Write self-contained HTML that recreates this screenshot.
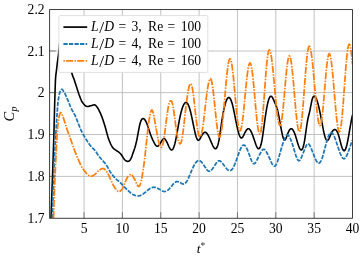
<!DOCTYPE html>
<html><head><meta charset="utf-8"><title>Cp plot</title>
<style>html,body{margin:0;padding:0;background:#fff;width:364px;height:257px;overflow:hidden;font-family:"Liberation Serif",serif}</style></head>
<body>
<svg width="364" height="257" viewBox="0 0 364 257" style="position:absolute;left:0;top:0;will-change:transform">
<defs><clipPath id="c"><rect x="49.65" y="9.6" width="302.85" height="208.65"/></clipPath></defs>
<rect width="364" height="257" fill="#fff"/>
<path d="M84.05,9.6 V218.25 M122.40,9.6 V218.25 M160.75,9.6 V218.25 M199.10,9.6 V218.25 M237.45,9.6 V218.25 M275.80,9.6 V218.25 M314.15,9.6 V218.25 M49.65,51.00 H352.5 M49.65,92.60 H352.5 M49.65,134.50 H352.5 M49.65,176.40 H352.5" stroke="#b4b4b4" stroke-width="0.8" fill="none"/>
<g clip-path="url(#c)" fill="none" stroke-linejoin="round">
<path d="M51.00,218.00 L51.10,215.20 L51.20,212.40 L51.30,209.60 L51.40,206.80 L51.50,204.00 L51.60,201.20 L51.70,198.40 L51.80,195.60 L51.90,192.80 L52.00,190.00 L52.10,187.22 L52.20,184.46 L52.30,181.72 L52.40,178.98 L52.50,176.23 L52.60,173.47 L52.70,170.67 L52.80,167.84 L52.90,164.95 L53.00,162.00 L53.10,159.00 L53.20,155.96 L53.30,152.88 L53.40,149.76 L53.50,146.60 L53.60,143.38 L53.70,140.12 L53.80,136.81 L53.90,133.43 L54.00,130.00 L54.10,126.41 L54.20,122.61 L54.30,118.68 L54.40,114.71 L54.50,110.78 L54.60,106.96 L54.70,103.34 L54.80,100.00 L54.90,96.77 L55.00,93.50 L55.10,90.27 L55.20,87.18 L55.30,84.32 L55.40,81.77 L55.50,79.64 L55.60,78.00 L55.70,76.74 L55.80,75.65 L55.90,74.70 L56.00,73.85 L56.10,73.07 L56.20,72.33 L56.30,71.60 L56.40,70.83 L56.50,70.00 L56.60,69.13 L56.70,68.25 L56.80,67.37 L56.90,66.51 L57.00,65.65 L57.10,64.81 L57.20,64.00 L57.30,63.21 L57.40,62.45 L57.50,61.70 L57.60,60.96 L57.70,60.23 L57.80,59.50 L57.90,58.75 L58.00,58.00 L58.10,57.24 L58.20,56.49 L58.30,55.74 L58.40,54.99 L58.50,54.23 L58.60,53.46 L58.70,52.67 L58.80,51.85 L58.90,51.00 L59.00,50.11 L59.10,49.17 L59.20,48.20 L59.30,47.19 L59.40,46.15 L59.50,45.10 L59.60,44.03 L59.70,42.96 L59.80,41.89 L59.90,40.83 L60.00,39.78 L60.10,38.75 L60.20,37.75 L60.30,36.79 L60.40,35.87 L60.50,35.00 L60.60,34.14 L60.70,33.27 L60.80,32.38 L60.90,31.50 L61.00,30.62 L61.10,29.76 L61.20,28.91 L61.30,28.10 L61.40,27.33 L61.50,26.61 L61.60,25.94 L61.70,25.34 L61.80,24.81 L61.90,24.36 L62.00,24.00 L62.10,23.69 L62.20,23.38 L62.30,23.08 L62.40,22.80 L62.50,22.52 L62.60,22.27 L62.70,22.02 L62.80,21.80 L62.90,21.60 L63.00,21.43 L63.10,21.28 L63.20,21.16 L63.30,21.07 L63.40,21.02 L63.50,21.00 L63.60,21.02 L63.70,21.09 L63.80,21.20 L63.90,21.36 L64.00,21.55 L64.10,21.77 L64.20,22.03 L64.30,22.31 L64.40,22.62 L64.50,22.96 L64.60,23.31 L64.70,23.69 L64.80,24.08 L64.90,24.48 L65.00,24.89 L65.10,25.31 L65.20,25.73 L65.30,26.16 L65.40,26.58 L65.50,27.00 L65.60,27.44 L65.70,27.92 L65.80,28.45 L65.90,29.02 L66.00,29.62 L66.50,33.06 L67.00,37.01 L67.50,41.10 L68.00,45.00 L68.50,48.94 L69.00,53.21 L69.50,57.61 L70.00,61.91 L70.50,65.88 L71.00,69.31 L71.50,71.98 L72.00,73.87 L72.50,75.39 L73.00,76.68 L73.50,77.89 L74.00,79.16 L74.50,80.60 L75.00,82.13 L75.50,83.69 L76.00,85.26 L76.50,86.81 L77.00,88.38 L77.50,89.96 L78.00,91.53 L78.50,93.05 L79.00,94.47 L79.50,95.79 L80.00,97.12 L80.50,98.43 L81.00,99.67 L81.50,100.79 L82.00,101.75 L82.50,102.50 L83.00,103.12 L83.50,103.74 L84.00,104.32 L84.50,104.86 L85.00,105.35 L85.50,105.76 L86.00,106.10 L86.50,106.34 L87.00,106.48 L87.50,106.50 L88.00,106.45 L88.50,106.36 L89.00,106.25 L89.50,106.11 L90.00,105.97 L90.50,105.83 L91.00,105.70 L91.50,105.56 L92.00,105.40 L92.50,105.23 L93.00,105.07 L93.50,104.93 L94.00,104.84 L94.50,104.80 L95.00,104.94 L95.50,105.29 L96.00,105.81 L96.50,106.40 L97.00,107.00 L97.50,107.66 L98.00,108.45 L98.50,109.35 L99.00,110.31 L99.50,111.30 L100.00,112.34 L100.50,113.45 L101.00,114.63 L101.50,115.87 L102.00,117.16 L102.50,118.50 L103.00,119.92 L103.50,121.45 L104.00,123.04 L104.50,124.67 L105.00,126.30 L105.50,128.00 L106.00,129.80 L106.50,131.67 L107.00,133.53 L107.50,135.35 L108.00,137.07 L108.50,138.64 L109.00,140.00 L109.50,141.23 L110.00,142.42 L110.50,143.55 L111.00,144.61 L111.50,145.59 L112.00,146.47 L112.50,147.24 L113.00,147.89 L113.50,148.41 L114.00,148.86 L114.50,149.25 L115.00,149.61 L115.50,149.95 L116.00,150.30 L116.50,150.64 L117.00,150.95 L117.50,151.25 L118.00,151.57 L118.50,151.92 L119.00,152.32 L119.50,152.76 L120.00,153.23 L120.50,153.74 L121.00,154.30 L121.50,154.96 L122.00,155.74 L122.50,156.57 L123.00,157.41 L123.50,158.17 L124.00,158.82 L124.50,159.42 L125.00,159.99 L125.50,160.47 L126.00,160.80 L126.50,161.03 L127.00,161.23 L127.50,161.36 L128.00,161.40 L128.50,161.30 L129.00,161.08 L129.50,160.80 L130.00,160.29 L130.50,159.45 L131.00,158.43 L131.50,157.35 L132.00,156.00 L132.50,154.49 L133.00,153.00 L133.50,151.63 L134.00,150.28 L134.50,148.85 L135.00,147.23 L135.50,145.42 L136.00,143.46 L136.50,141.34 L137.00,139.05 L137.50,136.40 L138.00,133.62 L138.50,131.00 L139.00,128.41 L139.50,125.80 L140.00,123.62 L140.50,122.18 L141.00,120.80 L141.50,119.78 L142.00,119.09 L142.50,118.69 L143.00,118.55 L143.50,118.63 L144.00,118.91 L144.50,119.36 L145.00,119.97 L145.50,120.75 L146.00,121.68 L146.50,122.77 L147.00,124.00 L147.50,125.37 L148.00,126.84 L148.50,128.38 L149.00,129.94 L149.50,131.49 L150.00,133.00 L150.50,134.43 L151.00,135.77 L151.50,137.04 L152.00,138.25 L152.50,139.39 L153.00,140.47 L153.50,141.50 L154.00,142.48 L154.50,143.40 L155.00,144.22 L155.50,144.94 L156.00,145.52 L156.50,145.95 L157.00,146.20 L157.50,146.25 L158.00,146.09 L158.50,145.74 L159.00,145.22 L159.50,144.58 L160.00,143.83 L160.50,143.00 L161.00,142.13 L161.50,141.27 L162.00,140.46 L162.50,139.75 L163.00,139.19 L163.50,138.84 L164.00,138.73 L164.50,138.88 L165.00,139.26 L165.50,139.83 L166.00,140.58 L166.50,141.45 L167.00,142.44 L167.50,143.50 L168.00,144.60 L168.50,145.71 L169.00,146.77 L169.50,147.75 L170.00,148.61 L170.50,149.30 L171.00,149.77 L171.50,150.00 L172.00,149.92 L172.50,149.54 L173.00,148.85 L173.50,147.85 L174.00,146.57 L174.50,144.99 L175.00,143.13 L175.50,141.00 L176.00,138.61 L176.50,136.01 L177.00,133.26 L177.50,130.42 L178.00,127.56 L178.50,124.73 L179.00,122.00 L179.50,119.41 L180.00,116.99 L180.50,114.73 L181.00,112.65 L181.50,110.74 L182.00,109.03 L182.50,107.50 L183.00,106.17 L183.50,105.05 L184.00,104.12 L184.50,103.40 L185.00,102.89 L185.50,102.59 L186.00,102.50 L186.50,102.62 L187.00,102.96 L187.50,103.52 L188.00,104.30 L188.50,105.31 L189.00,106.54 L189.50,108.00 L190.00,109.69 L190.50,111.57 L191.00,113.63 L191.50,115.84 L192.00,118.15 L192.50,120.55 L193.00,123.00 L193.50,125.47 L194.00,127.91 L194.50,130.27 L195.00,132.48 L195.50,134.50 L196.00,136.28 L196.50,137.77 L197.00,138.95 L197.50,139.79 L198.00,140.25 L198.50,140.32 L199.00,140.05 L199.50,139.51 L200.00,138.76 L200.50,137.88 L201.00,136.94 L201.50,136.00 L202.00,135.12 L202.50,134.33 L203.00,133.64 L203.50,133.07 L204.00,132.64 L204.50,132.36 L205.00,132.24 L205.50,132.31 L206.00,132.55 L206.50,132.97 L207.00,133.53 L207.50,134.24 L208.00,135.06 L208.50,135.98 L209.00,137.00 L209.50,138.09 L210.00,139.23 L210.50,140.40 L211.00,141.59 L211.50,142.76 L212.00,143.91 L212.50,145.00 L213.00,146.02 L213.50,146.93 L214.00,147.69 L214.50,148.28 L215.00,148.64 L215.50,148.75 L216.00,148.57 L216.50,148.07 L217.00,147.24 L217.50,146.03 L218.00,144.44 L218.50,142.44 L219.00,140.00 L219.50,137.12 L220.00,133.90 L220.50,130.46 L221.00,126.92 L221.50,123.39 L222.00,120.00 L222.50,116.84 L223.00,113.94 L223.50,111.28 L224.00,108.86 L224.50,106.68 L225.00,104.73 L225.50,103.00 L226.00,101.50 L226.50,100.22 L227.00,99.18 L227.50,98.38 L228.00,97.83 L228.50,97.54 L229.00,97.52 L229.50,97.77 L230.00,98.28 L230.50,99.07 L231.00,100.11 L231.50,101.43 L232.00,103.00 L232.50,104.83 L233.00,106.88 L233.50,109.11 L234.00,111.48 L234.50,113.94 L235.00,116.46 L235.50,119.00 L236.00,121.51 L236.50,123.96 L237.00,126.32 L237.50,128.56 L238.00,130.63 L238.50,132.50 L239.00,134.15 L239.50,135.54 L240.00,136.64 L240.50,137.44 L241.00,137.90 L241.50,138.00 L242.00,137.76 L242.50,137.23 L243.00,136.48 L243.50,135.57 L244.00,134.56 L244.50,133.52 L245.00,132.50 L245.50,131.56 L246.00,130.73 L246.50,130.02 L247.00,129.44 L247.50,129.02 L248.00,128.77 L248.50,128.71 L249.00,128.84 L249.50,129.19 L250.00,129.72 L250.50,130.43 L251.00,131.30 L251.50,132.33 L252.00,133.50 L252.50,134.79 L253.00,136.18 L253.50,137.63 L254.00,139.12 L254.50,140.61 L255.00,142.08 L255.50,143.50 L256.00,144.83 L256.50,146.03 L257.00,147.07 L257.50,147.89 L258.00,148.46 L258.50,148.74 L259.00,148.68 L259.50,148.25 L260.00,147.44 L260.50,146.23 L261.00,144.59 L261.50,142.52 L262.00,140.00 L262.50,137.03 L263.00,133.69 L263.50,130.11 L264.00,126.39 L264.50,122.65 L265.00,119.00 L265.50,115.54 L266.00,112.30 L266.50,109.30 L267.00,106.57 L267.50,104.13 L268.00,102.00 L268.50,100.20 L269.00,98.72 L269.50,97.59 L270.00,96.78 L270.50,96.32 L271.00,96.19 L271.50,96.40 L272.00,96.91 L272.50,97.68 L273.00,98.63 L273.50,99.71 L274.00,100.85 L274.50,102.00 L275.00,103.11 L275.50,104.22 L276.00,105.40 L276.50,106.72 L277.00,108.23 L277.50,110.00 L278.00,112.08 L278.50,114.42 L279.00,116.97 L279.50,119.66 L280.00,122.43 L280.50,125.24 L281.00,128.00 L281.50,130.67 L282.00,133.15 L282.50,135.38 L283.00,137.28 L283.50,138.75 L284.00,139.73 L284.50,140.12 L285.00,139.96 L285.50,139.33 L286.00,138.35 L286.50,137.12 L287.00,135.75 L287.50,134.34 L288.00,133.00 L288.50,131.82 L289.00,130.83 L289.50,130.02 L290.00,129.40 L290.50,128.99 L291.00,128.78 L291.50,128.78 L292.00,128.99 L292.50,129.40 L293.00,130.01 L293.50,130.82 L294.00,131.82 L294.50,133.00 L295.00,134.35 L295.50,135.84 L296.00,137.43 L296.50,139.08 L297.00,140.75 L297.50,142.41 L298.00,144.00 L298.50,145.49 L299.00,146.85 L299.50,148.02 L300.00,148.95 L300.50,149.62 L301.00,149.96 L301.50,149.94 L302.00,149.53 L302.50,148.72 L303.00,147.47 L303.50,145.78 L304.00,143.63 L304.50,141.00 L305.00,137.91 L305.50,134.49 L306.00,130.92 L306.50,127.37 L307.00,124.00 L307.50,121.00 L308.00,118.47 L308.50,116.28 L309.00,114.26 L309.50,112.23 L310.00,110.00 L310.50,107.46 L311.00,104.79 L311.50,102.22 L312.00,100.00 L312.50,98.32 L313.00,97.17 L313.50,96.48 L314.00,96.20 L314.50,96.25 L315.00,96.59 L315.50,97.19 L316.00,98.04 L316.50,99.13 L317.00,100.46 L317.50,102.00 L318.00,103.75 L318.50,105.68 L319.00,107.77 L319.50,110.00 L320.00,112.35 L320.50,114.80 L321.00,117.35 L321.50,120.00 L322.00,122.72 L322.50,125.46 L323.00,128.14 L323.50,130.68 L324.00,133.00 L324.50,135.05 L325.00,136.79 L325.50,138.22 L326.00,139.32 L326.50,140.07 L327.00,140.47 L327.50,140.50 L328.00,140.16 L328.50,139.50 L329.00,138.60 L329.50,137.53 L330.00,136.36 L330.50,135.16 L331.00,134.00 L331.50,132.95 L332.00,132.02 L332.50,131.22 L333.00,130.56 L333.50,130.05 L334.00,129.70 L334.50,129.51 L335.00,129.50 L335.50,129.67 L336.00,130.03 L336.50,130.59 L337.00,131.36 L337.50,132.35 L338.00,133.56 L338.50,135.00 L339.00,136.67 L339.50,138.51 L340.00,140.44 L340.50,142.38 L341.00,144.26 L341.50,146.00 L342.00,147.54 L342.50,148.82 L343.00,149.81 L343.50,150.47 L344.00,150.76 L344.50,150.64 L345.00,150.09 L345.50,149.16 L346.00,147.86 L346.50,146.21 L347.00,144.25 L347.50,142.00 L348.00,139.49 L348.50,136.77 L349.00,133.91 L349.50,130.96 L350.00,128.00 L350.50,125.08 L351.00,122.25 L351.50,119.59 L352.00,117.15 L352.50,115.00" stroke="#000" stroke-width="1.6"/>
<path d="M52.30,218.00 L52.40,215.20 L52.50,212.40 L52.60,209.60 L52.70,206.80 L52.80,204.00 L52.90,201.20 L53.00,198.40 L53.10,195.60 L53.20,192.80 L53.30,190.00 L53.40,187.15 L53.50,184.22 L53.60,181.25 L53.70,178.27 L53.80,175.31 L53.90,172.41 L54.00,169.59 L54.10,166.90 L54.20,164.35 L54.30,162.00 L54.40,159.78 L54.50,157.63 L54.60,155.55 L54.70,153.52 L54.80,151.55 L54.90,149.63 L55.00,147.76 L55.10,145.93 L55.20,144.15 L55.30,142.41 L55.40,140.70 L55.50,139.02 L55.60,137.37 L55.70,135.75 L55.80,134.15 L55.90,132.57 L56.00,131.00 L56.10,129.43 L56.20,127.84 L56.30,126.24 L56.40,124.64 L56.50,123.04 L56.60,121.44 L56.70,119.85 L56.80,118.28 L56.90,116.73 L57.00,115.20 L57.10,113.70 L57.20,112.24 L57.30,110.82 L57.40,109.45 L57.50,108.13 L57.60,106.86 L57.70,105.65 L57.80,104.52 L57.90,103.45 L58.00,102.46 L58.10,101.55 L58.20,100.73 L58.30,100.00 L58.40,99.33 L58.50,98.68 L58.60,98.05 L58.70,97.45 L58.80,96.87 L58.90,96.32 L59.00,95.79 L59.10,95.28 L59.20,94.80 L59.30,94.35 L59.40,93.93 L59.50,93.53 L59.60,93.16 L59.70,92.83 L59.80,92.52 L59.90,92.24 L60.00,92.00 L60.10,91.77 L60.20,91.55 L60.30,91.32 L60.40,91.11 L60.50,90.89 L60.60,90.69 L60.70,90.49 L60.80,90.31 L60.90,90.14 L61.00,89.97 L61.10,89.83 L61.20,89.70 L61.30,89.58 L61.40,89.48 L61.50,89.40 L61.60,89.35 L61.70,89.31 L61.80,89.30 L61.90,89.31 L62.00,89.34 L62.10,89.38 L62.20,89.45 L62.30,89.52 L62.40,89.61 L62.50,89.72 L62.60,89.83 L62.70,89.96 L62.80,90.09 L62.90,90.23 L63.00,90.38 L63.10,90.54 L63.20,90.70 L63.30,90.86 L63.40,91.03 L63.50,91.19 L63.60,91.36 L63.70,91.52 L63.80,91.69 L63.90,91.85 L64.00,92.00 L64.10,92.15 L64.20,92.31 L64.30,92.48 L64.40,92.65 L64.50,92.82 L64.60,93.00 L64.70,93.18 L64.80,93.37 L64.90,93.56 L65.00,93.75 L65.10,93.95 L65.20,94.15 L65.30,94.36 L65.40,94.56 L65.50,94.77 L65.60,94.99 L65.70,95.20 L65.80,95.42 L65.90,95.64 L66.00,95.86 L66.00,95.86 L66.50,97.00 L67.00,98.15 L67.50,99.31 L68.00,100.46 L68.50,101.68 L69.00,102.96 L69.50,104.26 L70.00,105.54 L70.50,106.79 L71.00,107.96 L71.50,109.02 L72.00,109.98 L72.50,110.89 L73.00,111.75 L73.50,112.61 L74.00,113.49 L74.50,114.41 L75.00,115.40 L75.50,116.47 L76.00,117.62 L76.50,118.82 L77.00,120.07 L77.50,121.34 L78.00,122.64 L78.50,123.95 L79.00,125.24 L79.50,126.52 L80.00,127.77 L80.50,128.98 L81.00,130.13 L81.50,131.21 L82.00,132.24 L82.50,133.22 L83.00,134.15 L83.50,135.02 L84.00,135.89 L84.50,136.75 L85.00,137.59 L85.50,138.43 L86.00,139.25 L86.50,140.05 L87.00,140.84 L87.50,141.62 L88.00,142.37 L88.50,143.11 L89.00,143.82 L89.50,144.51 L90.00,145.18 L90.50,145.82 L91.00,146.44 L91.50,147.03 L92.00,147.56 L92.50,148.05 L93.00,148.51 L93.50,148.96 L94.00,149.43 L94.50,149.94 L95.00,150.50 L95.50,151.14 L96.00,151.84 L96.50,152.60 L97.00,153.38 L97.50,154.17 L98.00,154.93 L98.50,155.66 L99.00,156.33 L99.50,156.96 L100.00,157.57 L100.50,158.16 L101.00,158.73 L101.50,159.29 L102.00,159.84 L102.50,160.39 L103.00,160.94 L103.50,161.50 L104.00,162.07 L104.50,162.66 L105.00,163.27 L105.50,163.91 L106.00,164.58 L106.50,165.29 L107.00,166.08 L107.50,166.92 L108.00,167.81 L108.50,168.73 L109.00,169.65 L109.50,170.56 L110.00,171.43 L110.50,172.25 L111.00,173.00 L111.50,173.70 L112.00,174.37 L112.50,175.03 L113.00,175.67 L113.50,176.28 L114.00,176.87 L114.50,177.44 L115.00,177.99 L115.50,178.51 L116.00,179.00 L116.50,179.46 L117.00,179.87 L117.50,180.26 L118.00,180.63 L118.50,181.01 L119.00,181.39 L119.50,181.80 L120.00,182.25 L120.50,182.75 L121.00,183.31 L121.50,183.88 L122.00,184.45 L122.50,185.00 L123.00,185.53 L123.50,186.05 L124.00,186.58 L124.50,187.10 L125.00,187.61 L125.50,188.12 L126.00,188.62 L126.50,189.11 L127.00,189.58 L127.50,190.05 L128.00,190.50 L128.50,190.95 L129.00,191.41 L129.50,191.88 L130.00,192.34 L130.50,192.78 L131.00,193.20 L131.50,193.59 L132.00,193.95 L132.50,194.25 L133.00,194.50 L133.50,194.72 L134.00,194.94 L134.50,195.14 L135.00,195.34 L135.50,195.52 L136.00,195.68 L136.50,195.81 L137.00,195.91 L137.50,195.98 L138.00,196.00 L138.50,195.95 L139.00,195.87 L139.50,195.75 L140.00,195.59 L140.50,195.40 L141.00,195.18 L141.50,194.92 L142.00,194.64 L142.50,194.33 L143.00,194.00 L143.50,193.64 L144.00,193.27 L144.50,192.87 L145.00,192.47 L145.50,192.05 L146.00,191.64 L146.50,191.22 L147.00,190.80 L147.50,190.40 L148.00,190.00 L148.50,189.62 L149.00,189.26 L149.50,188.91 L150.00,188.59 L150.50,188.30 L151.00,188.04 L151.50,187.81 L152.00,187.61 L152.50,187.46 L153.00,187.34 L153.50,187.27 L154.00,187.24 L154.50,187.26 L155.00,187.33 L155.50,187.43 L156.00,187.57 L156.50,187.74 L157.00,187.95 L157.50,188.18 L158.00,188.43 L158.50,188.71 L159.00,189.00 L159.50,189.30 L160.00,189.62 L160.50,189.93 L161.00,190.23 L161.50,190.52 L162.00,190.78 L162.50,191.02 L163.00,191.22 L163.50,191.37 L164.00,191.48 L164.50,191.52 L165.00,191.50 L165.50,191.41 L166.00,191.25 L166.50,191.02 L167.00,190.74 L167.50,190.39 L168.00,190.00 L168.50,189.56 L169.00,189.08 L169.50,188.56 L170.00,188.00 L170.50,187.41 L171.00,186.81 L171.50,186.19 L172.00,185.58 L172.50,184.97 L173.00,184.39 L173.50,183.83 L174.00,183.32 L174.50,182.85 L175.00,182.44 L175.50,182.10 L176.00,181.85 L176.50,181.68 L177.00,181.60 L177.50,181.60 L178.00,181.67 L178.50,181.81 L179.00,182.00 L179.50,182.23 L180.00,182.50 L180.50,182.80 L181.00,183.10 L181.50,183.39 L182.00,183.64 L182.50,183.85 L183.00,183.98 L183.50,184.02 L184.00,183.95 L184.50,183.76 L185.00,183.44 L185.50,183.01 L186.00,182.46 L186.50,181.79 L187.00,181.00 L187.50,180.10 L188.00,179.10 L188.50,178.02 L189.00,176.88 L189.50,175.70 L190.00,174.50 L190.50,173.29 L191.00,172.09 L191.50,170.90 L192.00,169.74 L192.50,168.61 L193.00,167.52 L193.50,166.48 L194.00,165.50 L194.50,164.59 L195.00,163.75 L195.50,163.00 L196.00,162.33 L196.50,161.75 L197.00,161.28 L197.50,160.91 L198.00,160.66 L198.50,160.52 L199.00,160.51 L199.50,160.62 L200.00,160.85 L200.50,161.17 L201.00,161.59 L201.50,162.10 L202.00,162.67 L202.50,163.31 L203.00,164.00 L203.50,164.73 L204.00,165.49 L204.50,166.26 L205.00,167.03 L205.50,167.78 L206.00,168.50 L206.50,169.17 L207.00,169.78 L207.50,170.31 L208.00,170.74 L208.50,171.05 L209.00,171.22 L209.50,171.24 L210.00,171.10 L210.50,170.83 L211.00,170.44 L211.50,169.94 L212.00,169.36 L212.50,168.70 L213.00,168.00 L213.50,167.26 L214.00,166.50 L214.50,165.73 L215.00,164.97 L215.50,164.22 L216.00,163.50 L216.50,162.82 L217.00,162.21 L217.50,161.68 L218.00,161.25 L218.50,160.94 L219.00,160.77 L219.50,160.77 L220.00,160.92 L220.50,161.22 L221.00,161.63 L221.50,162.13 L222.00,162.71 L222.50,163.34 L223.00,164.00 L223.50,164.67 L224.00,165.34 L224.50,166.00 L225.00,166.66 L225.50,167.29 L226.00,167.91 L226.50,168.50 L227.00,169.05 L227.50,169.56 L228.00,170.00 L228.50,170.35 L229.00,170.61 L229.50,170.74 L230.00,170.75 L230.50,170.61 L231.00,170.33 L231.50,169.91 L232.00,169.36 L232.50,168.68 L233.00,167.90 L233.50,167.00 L234.00,166.00 L234.50,164.91 L235.00,163.73 L235.50,162.48 L236.00,161.17 L236.50,159.81 L237.00,158.42 L237.50,157.00 L238.00,155.57 L238.50,154.15 L239.00,152.77 L239.50,151.43 L240.00,150.17 L240.50,149.00 L241.00,147.95 L241.50,147.03 L242.00,146.26 L242.50,145.65 L243.00,145.24 L243.50,145.03 L244.00,145.03 L244.50,145.26 L245.00,145.68 L245.50,146.29 L246.00,147.06 L246.50,147.97 L247.00,149.00 L247.50,150.14 L248.00,151.36 L248.50,152.64 L249.00,153.97 L249.50,155.32 L250.00,156.67 L250.50,158.00 L251.00,159.29 L251.50,160.50 L252.00,161.58 L252.50,162.49 L253.00,163.19 L253.50,163.64 L254.00,163.78 L254.50,163.64 L255.00,163.24 L255.50,162.63 L256.00,161.85 L256.50,160.96 L257.00,160.00 L257.50,159.00 L258.00,157.99 L258.50,156.97 L259.00,155.95 L259.50,154.94 L260.00,153.95 L260.50,153.00 L261.00,152.09 L261.50,151.26 L262.00,150.53 L262.50,149.94 L263.00,149.51 L263.50,149.28 L264.00,149.28 L264.50,149.50 L265.00,149.92 L265.50,150.51 L266.00,151.24 L266.50,152.08 L267.00,153.00 L267.50,153.98 L268.00,154.99 L268.50,156.05 L269.00,157.12 L269.50,158.22 L270.00,159.32 L270.50,160.41 L271.00,161.50 L271.50,162.56 L272.00,163.56 L272.50,164.47 L273.00,165.22 L273.50,165.80 L274.00,166.16 L274.50,166.25 L275.00,166.05 L275.50,165.57 L276.00,164.85 L276.50,163.90 L277.00,162.76 L277.50,161.45 L278.00,160.00 L278.50,158.44 L279.00,156.79 L279.50,155.07 L280.00,153.31 L280.50,151.53 L281.00,149.75 L281.50,148.00 L282.00,146.30 L282.50,144.66 L283.00,143.10 L283.50,141.63 L284.00,140.26 L284.50,139.00 L285.00,137.87 L285.50,136.90 L286.00,136.10 L286.50,135.50 L287.00,135.13 L287.50,135.00 L288.00,135.14 L288.50,135.52 L289.00,136.12 L289.50,136.92 L290.00,137.89 L290.50,139.00 L291.00,140.24 L291.50,141.58 L292.00,143.01 L292.50,144.51 L293.00,146.08 L293.50,147.69 L294.00,149.34 L294.50,151.00 L295.00,152.66 L295.50,154.27 L296.00,155.80 L296.50,157.20 L297.00,158.43 L297.50,159.45 L298.00,160.20 L298.50,160.65 L299.00,160.76 L299.50,160.53 L300.00,160.00 L300.50,159.23 L301.00,158.28 L301.50,157.18 L302.00,156.00 L302.50,154.77 L303.00,153.52 L303.50,152.25 L304.00,150.99 L304.50,149.73 L305.00,148.50 L305.50,147.31 L306.00,146.21 L306.50,145.25 L307.00,144.49 L307.50,143.97 L308.00,143.75 L308.50,143.86 L309.00,144.28 L309.50,144.95 L310.00,145.83 L310.50,146.86 L311.00,148.00 L311.50,149.20 L312.00,150.45 L312.50,151.72 L313.00,153.01 L313.50,154.30 L314.00,155.57 L314.50,156.81 L315.00,158.00 L315.50,159.13 L316.00,160.17 L316.50,161.11 L317.00,161.90 L317.50,162.54 L318.00,162.99 L318.50,163.22 L319.00,163.22 L319.50,162.97 L320.00,162.49 L320.50,161.79 L321.00,160.88 L321.50,159.77 L322.00,158.47 L322.50,157.00 L323.00,155.37 L323.50,153.60 L324.00,151.74 L324.50,149.81 L325.00,147.86 L325.50,145.91 L326.00,144.00 L326.50,142.16 L327.00,140.42 L327.50,138.79 L328.00,137.31 L328.50,136.00 L329.00,134.87 L329.50,133.95 L330.00,133.24 L330.50,132.76 L331.00,132.52 L331.50,132.54 L332.00,132.80 L332.50,133.29 L333.00,133.97 L333.50,134.84 L334.00,135.85 L334.50,137.00 L335.00,138.25 L335.50,139.59 L336.00,141.00 L336.50,142.46 L337.00,143.97 L337.50,145.49 L338.00,147.01 L338.50,148.52 L339.00,150.00 L339.50,151.43 L340.00,152.79 L340.50,154.06 L341.00,155.23 L341.50,156.26 L342.00,157.14 L342.50,157.85 L343.00,158.37 L343.50,158.68 L344.00,158.76 L344.50,158.60 L345.00,158.23 L345.50,157.67 L346.00,156.93 L346.50,156.03 L347.00,155.00 L347.50,153.85 L348.00,152.60 L348.50,151.28 L349.00,149.89 L349.50,148.46 L350.00,147.00 L350.50,145.54 L351.00,144.09 L351.50,142.67 L352.00,141.30 L352.50,140.00" stroke="#1f77b4" stroke-width="1.75" stroke-dasharray="4.3 1.3"/>
<path d="M53.50,218.00 L53.60,215.01 L53.70,212.05 L53.80,209.13 L53.90,206.26 L54.00,203.43 L54.10,200.64 L54.20,197.90 L54.30,195.22 L54.40,192.58 L54.50,190.00 L54.60,187.46 L54.70,184.95 L54.80,182.48 L54.90,180.04 L55.00,177.63 L55.10,175.26 L55.20,172.94 L55.30,170.66 L55.40,168.42 L55.50,166.23 L55.60,164.09 L55.70,162.00 L55.80,159.93 L55.90,157.85 L56.00,155.76 L56.10,153.68 L56.20,151.62 L56.30,149.58 L56.40,147.56 L56.50,145.59 L56.60,143.67 L56.70,141.80 L56.80,139.99 L56.90,138.26 L57.00,136.61 L57.10,135.05 L57.20,133.59 L57.30,132.24 L57.40,131.00 L57.50,129.83 L57.60,128.68 L57.70,127.56 L57.80,126.46 L57.90,125.40 L58.00,124.37 L58.10,123.39 L58.20,122.45 L58.30,121.55 L58.40,120.71 L58.50,119.93 L58.60,119.21 L58.70,118.55 L58.80,117.96 L58.90,117.44 L59.00,117.00 L59.10,116.60 L59.20,116.21 L59.30,115.82 L59.40,115.44 L59.50,115.08 L59.60,114.73 L59.70,114.40 L59.80,114.09 L59.90,113.81 L60.00,113.54 L60.10,113.31 L60.20,113.10 L60.30,112.93 L60.40,112.79 L60.50,112.68 L60.60,112.62 L60.70,112.60 L60.80,112.62 L60.90,112.66 L61.00,112.73 L61.10,112.82 L61.20,112.94 L61.30,113.08 L61.40,113.23 L61.50,113.40 L61.60,113.59 L61.70,113.78 L61.80,113.99 L61.90,114.20 L62.00,114.42 L62.10,114.63 L62.20,114.86 L62.30,115.07 L62.40,115.29 L62.50,115.50 L62.60,115.71 L62.70,115.94 L62.80,116.18 L62.90,116.43 L63.00,116.70 L63.10,116.97 L63.20,117.25 L63.30,117.55 L63.40,117.85 L63.50,118.15 L63.60,118.47 L63.70,118.78 L63.80,119.11 L63.90,119.43 L64.00,119.76 L64.10,120.09 L64.20,120.42 L64.30,120.75 L64.40,121.08 L64.50,121.41 L64.60,121.74 L64.70,122.06 L64.80,122.38 L64.90,122.69 L65.00,123.00 L65.10,123.30 L65.20,123.61 L65.30,123.92 L65.40,124.23 L65.50,124.54 L65.60,124.85 L65.70,125.17 L65.80,125.48 L65.90,125.79 L66.00,126.11 L66.50,127.68 L67.00,129.22 L67.50,130.71 L68.00,132.13 L68.50,133.48 L69.00,134.81 L69.50,136.14 L70.00,137.50 L70.50,138.91 L71.00,140.37 L71.50,141.84 L72.00,143.32 L72.50,144.79 L73.00,146.24 L73.50,147.64 L74.00,149.00 L74.50,150.31 L75.00,151.60 L75.50,152.86 L76.00,154.10 L76.50,155.31 L77.00,156.51 L77.50,157.69 L78.00,158.85 L78.50,160.00 L79.00,161.15 L79.50,162.32 L80.00,163.47 L80.50,164.58 L81.00,165.64 L81.50,166.62 L82.00,167.50 L82.50,168.28 L83.00,169.00 L83.50,169.66 L84.00,170.29 L84.50,170.90 L85.00,171.50 L85.50,172.12 L86.00,172.76 L86.50,173.40 L87.00,174.00 L87.50,174.54 L88.00,174.98 L88.50,175.30 L89.00,175.55 L89.50,175.78 L90.00,175.97 L90.50,176.12 L91.00,176.19 L91.50,176.18 L92.00,176.07 L92.50,175.88 L93.00,175.62 L93.50,175.32 L94.00,174.99 L94.50,174.64 L95.00,174.30 L95.50,173.91 L96.00,173.41 L96.50,172.86 L97.00,172.27 L97.50,171.70 L98.00,171.17 L98.50,170.72 L99.00,170.37 L99.50,170.04 L100.00,169.71 L100.50,169.39 L101.00,169.10 L101.50,168.86 L102.00,168.67 L102.50,168.54 L103.00,168.50 L103.50,168.58 L104.00,168.82 L104.50,169.18 L105.00,169.64 L105.50,170.17 L106.00,170.76 L106.50,171.38 L107.00,172.00 L107.50,172.71 L108.00,173.60 L108.50,174.63 L109.00,175.74 L109.50,176.92 L110.00,178.11 L110.50,179.28 L111.00,180.38 L111.50,181.40 L112.00,182.43 L112.50,183.49 L113.00,184.53 L113.50,185.53 L114.00,186.46 L114.50,187.29 L115.00,188.00 L115.50,188.65 L116.00,189.30 L116.50,189.93 L117.00,190.51 L117.50,190.99 L118.00,191.36 L118.50,191.56 L119.00,191.59 L119.50,191.45 L120.00,191.18 L120.50,190.81 L121.00,190.35 L121.50,189.84 L122.00,189.30 L122.50,188.57 L123.00,187.54 L123.50,186.32 L124.00,184.99 L124.50,183.66 L125.00,182.44 L125.50,181.35 L126.00,180.21 L126.50,179.08 L127.00,178.03 L127.50,177.15 L128.00,176.50 L128.50,176.00 L129.00,175.54 L129.50,175.12 L130.00,174.80 L130.50,174.58 L131.00,174.50 L131.50,174.66 L132.00,175.09 L132.50,175.73 L133.00,176.50 L133.50,177.35 L134.00,178.21 L134.50,179.00 L135.00,179.86 L135.50,180.92 L136.00,182.07 L136.50,183.25 L137.00,184.36 L137.50,185.32 L138.00,186.04 L138.50,186.45 L139.00,186.42 L139.50,185.83 L140.00,184.80 L140.50,183.48 L141.00,182.00 L141.50,179.68 L142.00,176.97 L142.50,174.00 L143.00,170.87 L143.50,167.55 L144.00,164.00 L144.50,160.17 L145.00,156.00 L145.50,151.48 L146.00,146.71 L146.50,141.83 L147.00,137.00 L147.50,132.34 L148.00,128.00 L148.50,124.10 L149.00,120.64 L149.50,117.61 L150.00,115.00 L150.50,112.81 L151.00,111.16 L151.50,110.19 L152.00,110.03 L152.50,110.70 L153.00,112.07 L153.50,114.00 L154.00,116.37 L154.50,119.06 L155.00,121.97 L155.50,124.99 L156.00,128.00 L156.50,130.91 L157.00,133.69 L157.50,136.31 L158.00,138.75 L158.50,141.00 L159.00,143.02 L159.50,144.74 L160.00,146.11 L160.50,147.05 L161.00,147.49 L161.50,147.36 L162.00,146.64 L162.50,145.33 L163.00,143.45 L163.50,141.00 L164.00,138.02 L164.50,134.61 L165.00,130.89 L165.50,126.98 L166.00,123.00 L166.50,119.07 L167.00,115.30 L167.50,111.79 L168.00,108.66 L168.50,106.00 L169.00,103.91 L169.50,102.37 L170.00,101.35 L170.50,100.83 L171.00,100.78 L171.50,101.21 L172.00,102.18 L172.50,103.75 L173.00,106.00 L173.50,108.93 L174.00,112.40 L174.50,116.20 L175.00,120.13 L175.50,124.00 L176.00,127.63 L176.50,130.98 L177.00,134.01 L177.50,136.69 L178.00,139.00 L178.50,140.91 L179.00,142.37 L179.50,143.34 L180.00,143.75 L180.50,143.57 L181.00,142.74 L181.50,141.23 L182.00,139.00 L182.50,136.04 L183.00,132.46 L183.50,128.42 L184.00,124.06 L184.50,119.54 L185.00,115.00 L185.50,110.58 L186.00,106.34 L186.50,102.31 L187.00,98.55 L187.50,95.10 L188.00,92.00 L188.50,89.30 L189.00,87.05 L189.50,85.34 L190.00,84.21 L190.50,83.75 L191.00,84.00 L191.50,84.97 L192.00,86.63 L192.50,88.98 L193.00,92.00 L193.50,95.65 L194.00,99.80 L194.50,104.27 L195.00,108.90 L195.50,113.53 L196.00,118.00 L196.50,122.15 L197.00,125.92 L197.50,129.23 L198.00,132.03 L198.50,134.27 L199.00,135.88 L199.90,137.00 L200.40,136.67 L200.90,135.71 L201.40,134.12 L201.90,131.94 L202.40,129.23 L202.90,126.03 L203.40,122.44 L203.90,118.52 L204.40,114.36 L204.90,110.05 L205.40,105.70 L205.90,101.39 L206.40,97.23 L206.90,93.31 L207.40,89.72 L207.90,86.52 L208.40,83.81 L208.90,81.63 L209.40,80.04 L209.90,79.08 L210.40,78.75 L210.90,79.17 L211.40,80.43 L211.90,82.49 L212.40,85.28 L212.90,88.73 L213.40,92.74 L213.90,97.19 L214.40,101.95 L214.90,106.88 L215.40,111.84 L215.90,116.69 L216.40,121.27 L216.90,125.47 L217.40,129.16 L217.90,132.23 L218.40,134.59 L218.90,136.17 L219.40,136.93 L219.60,137.00 L220.10,136.55 L220.60,135.23 L221.10,133.05 L221.60,130.07 L222.10,126.36 L222.60,122.00 L223.10,117.10 L223.60,111.75 L224.10,106.09 L224.60,100.24 L225.10,94.33 L225.60,88.51 L226.10,82.90 L226.60,77.63 L227.10,72.83 L227.60,68.59 L228.10,65.02 L228.60,62.20 L229.10,60.19 L229.60,59.04 L230.00,58.75 L230.50,59.19 L231.00,60.51 L231.50,62.68 L232.00,65.63 L232.50,69.30 L233.00,73.60 L233.50,78.42 L234.00,83.64 L234.50,89.14 L235.00,94.78 L235.50,100.41 L236.00,105.91 L236.50,111.13 L237.00,115.95 L237.50,120.25 L238.00,123.92 L238.50,126.87 L239.00,129.04 L239.50,130.36 L240.00,130.80 L240.50,130.38 L241.00,129.14 L241.50,127.11 L242.00,124.33 L242.50,120.87 L243.00,116.83 L243.50,112.29 L244.00,107.38 L244.50,102.20 L245.00,96.90 L245.50,91.60 L246.00,86.42 L246.50,81.51 L247.00,76.97 L247.50,72.93 L248.00,69.47 L248.50,66.69 L249.00,64.66 L249.50,63.42 L250.00,63.00 L250.50,63.46 L251.00,64.81 L251.50,67.04 L252.00,70.07 L252.50,73.83 L253.00,78.23 L253.50,83.15 L254.00,88.47 L254.50,94.05 L255.00,99.74 L255.50,105.41 L256.00,110.89 L256.50,116.07 L257.00,120.80 L257.50,124.95 L258.00,128.44 L258.50,131.15 L259.00,133.04 L259.50,134.04 L259.80,134.20 L260.30,133.62 L260.80,131.89 L261.30,129.07 L261.80,125.23 L262.30,120.48 L262.80,114.94 L263.30,108.77 L263.80,102.15 L264.30,95.25 L264.80,88.26 L265.30,81.37 L265.80,74.78 L266.30,68.67 L266.80,63.21 L267.30,58.54 L267.80,54.80 L268.30,52.08 L268.80,50.47 L269.25,50.00 L269.75,50.40 L270.25,51.60 L270.75,53.57 L271.25,56.27 L271.75,59.65 L272.25,63.62 L272.75,68.11 L273.25,73.02 L273.75,78.24 L274.25,83.67 L274.75,89.18 L275.25,94.67 L275.75,100.00 L276.25,105.08 L276.75,109.79 L277.25,114.04 L277.75,117.72 L278.25,120.76 L278.75,123.11 L279.25,124.70 L279.75,125.50 L280.00,125.60 L280.50,125.12 L281.00,123.67 L281.50,121.32 L282.00,118.11 L282.50,114.14 L283.00,109.53 L283.50,104.39 L284.00,98.87 L284.50,93.12 L285.00,87.32 L285.50,81.61 L286.00,76.15 L286.50,71.11 L287.00,66.61 L287.50,62.78 L288.00,59.74 L288.50,57.56 L289.00,56.31 L289.40,56.00 L289.90,56.47 L290.40,57.85 L290.90,60.13 L291.40,63.24 L291.90,67.10 L292.40,71.62 L292.90,76.69 L293.40,82.19 L293.90,87.97 L294.40,93.90 L294.90,99.83 L295.40,105.61 L295.90,111.11 L296.40,116.18 L296.90,120.70 L297.40,124.56 L297.90,127.67 L298.40,129.95 L298.90,131.33 L299.40,131.80 L299.90,131.26 L300.40,129.64 L300.90,127.00 L301.40,123.39 L301.90,118.91 L302.40,113.67 L302.90,107.80 L303.40,101.46 L303.90,94.81 L304.40,88.00 L304.90,81.22 L305.40,74.64 L305.90,68.43 L306.40,62.74 L306.90,57.71 L307.40,53.48 L307.90,50.15 L308.40,47.81 L308.90,46.52 L309.25,46.25 L309.75,46.67 L310.25,47.93 L310.75,50.00 L311.25,52.84 L311.75,56.38 L312.25,60.55 L312.75,65.26 L313.25,70.41 L313.75,75.89 L314.25,81.59 L314.75,87.37 L315.25,93.13 L315.75,98.74 L316.25,104.07 L316.75,109.01 L317.25,113.46 L317.75,117.33 L318.25,120.52 L318.75,122.98 L319.25,124.65 L319.75,125.49 L320.00,125.60 L320.50,125.08 L321.00,123.55 L321.50,121.04 L322.00,117.63 L322.50,113.41 L323.00,108.51 L323.50,103.07 L324.00,97.24 L324.50,91.20 L325.00,85.11 L325.50,79.16 L326.00,73.50 L326.50,68.31 L327.00,63.74 L327.50,59.91 L328.00,56.94 L328.50,54.91 L329.00,53.88 L329.25,53.75 L329.75,54.22 L330.25,55.60 L330.75,57.88 L331.25,60.99 L331.75,64.86 L332.25,69.40 L332.75,74.50 L333.25,80.03 L333.75,85.87 L334.25,91.87 L334.75,97.89 L335.25,103.80 L335.75,109.43 L336.25,114.68 L336.75,119.39 L337.25,123.47 L337.75,126.82 L338.25,129.35 L338.75,131.01 L339.25,131.76 L339.40,131.80 L339.90,131.24 L340.40,129.59 L340.90,126.89 L341.40,123.19 L341.90,118.61 L342.40,113.24 L342.90,107.24 L343.40,100.75 L343.90,93.94 L344.40,86.98 L344.90,80.04 L345.40,73.31 L345.90,66.95 L346.40,61.12 L346.90,55.98 L347.40,51.65 L347.90,48.25 L348.40,45.85 L348.90,44.52 L349.25,44.25 L349.50,44.38 L349.75,44.76 L350.00,45.40 L350.25,46.29 L350.50,47.43 L350.75,48.80 L351.00,50.40 L351.25,52.22 L351.50,54.26 L351.75,56.49 L352.00,58.90 L352.25,61.49 L352.50,64.23" stroke="#ff7f0e" stroke-width="1.75" stroke-dasharray="7.0 1.4 1.5 1.2"/>
</g>
<path d="M84.05,218.25 v-6.0 M122.40,218.25 v-6.0 M160.75,218.25 v-6.0 M199.10,218.25 v-6.0 M237.45,218.25 v-6.0 M275.80,218.25 v-6.0 M314.15,218.25 v-6.0 M49.65,51.00 h6.0 M49.65,92.60 h6.0 M49.65,134.50 h6.0 M49.65,176.40 h6.0" stroke="#3a3a3a" stroke-width="0.6" fill="none"/>
<rect x="49.65" y="9.6" width="302.85" height="208.65" fill="none" stroke="#1c1c1c" stroke-width="0.85"/>
<rect x="58.9" y="15.6" width="148.9" height="56.8" rx="1" fill="#fff" stroke="#d2d2d2" stroke-width="0.7"/>
<path d="M63.4,27.1 H87.2" stroke="#000" stroke-width="1.7"/>
<path d="M63.4,44.0 H87.2" stroke="#1f77b4" stroke-width="1.8" stroke-dasharray="4.3 1.25"/>
<path d="M63.4,60.85 H87.2" stroke="#ff7f0e" stroke-width="1.8" stroke-dasharray="1.5 1.2 7.0 1.4"/>
<g font-family="Liberation Serif, serif" font-size="13.6" fill="#000">
<text y="30.8"><tspan x="91" font-style="italic">L</tspan><tspan x="99.2" y="33.2" font-size="17.6">/</tspan><tspan x="104.3" y="30.8" font-style="italic">D</tspan><tspan x="118.6">=</tspan><tspan x="131.4">3,</tspan><tspan x="148.1">Re</tspan><tspan x="167.6">=</tspan><tspan x="180.7">100</tspan></text>
<text y="47.75"><tspan x="91" font-style="italic">L</tspan><tspan x="99.2" y="50.15" font-size="17.6">/</tspan><tspan x="104.3" y="47.75" font-style="italic">D</tspan><tspan x="118.6">=</tspan><tspan x="131.4">4,</tspan><tspan x="148.1">Re</tspan><tspan x="167.6">=</tspan><tspan x="180.7">100</tspan></text>
<text y="64.7"><tspan x="91" font-style="italic">L</tspan><tspan x="99.2" y="67.10000000000001" font-size="17.6">/</tspan><tspan x="104.3" y="64.7" font-style="italic">D</tspan><tspan x="118.6">=</tspan><tspan x="131.4">4,</tspan><tspan x="148.1">Re</tspan><tspan x="167.6">=</tspan><tspan x="180.7">160</tspan></text>
<text x="44.6" y="14.10" text-anchor="end">2.2</text>
<text x="44.6" y="55.60" text-anchor="end">2.1</text>
<text x="44.6" y="97.20" text-anchor="end">2</text>
<text x="44.6" y="139.10" text-anchor="end">1.9</text>
<text x="44.6" y="181.00" text-anchor="end">1.8</text>
<text x="44.6" y="222.60" text-anchor="end">1.7</text>
<text x="84.05" y="233.2" text-anchor="middle">5</text>
<text x="122.40" y="233.2" text-anchor="middle">10</text>
<text x="160.75" y="233.2" text-anchor="middle">15</text>
<text x="199.10" y="233.2" text-anchor="middle">20</text>
<text x="237.45" y="233.2" text-anchor="middle">25</text>
<text x="275.80" y="233.2" text-anchor="middle">30</text>
<text x="314.15" y="233.2" text-anchor="middle">35</text>
<text x="352.50" y="233.2" text-anchor="middle">40</text>
<text x="196.7" y="253.1" font-style="italic" font-size="13.4">t</text>
<text x="200.6" y="248.6" font-size="9.5" fill="#333">*</text>
<g transform="translate(13.9,121.6) rotate(-90)"><text x="0" y="0" font-style="italic" font-size="14.5">C</text><text x="10.2" y="2.6" font-style="italic" font-size="10">p</text></g>
</g>
</svg>
</body></html>
